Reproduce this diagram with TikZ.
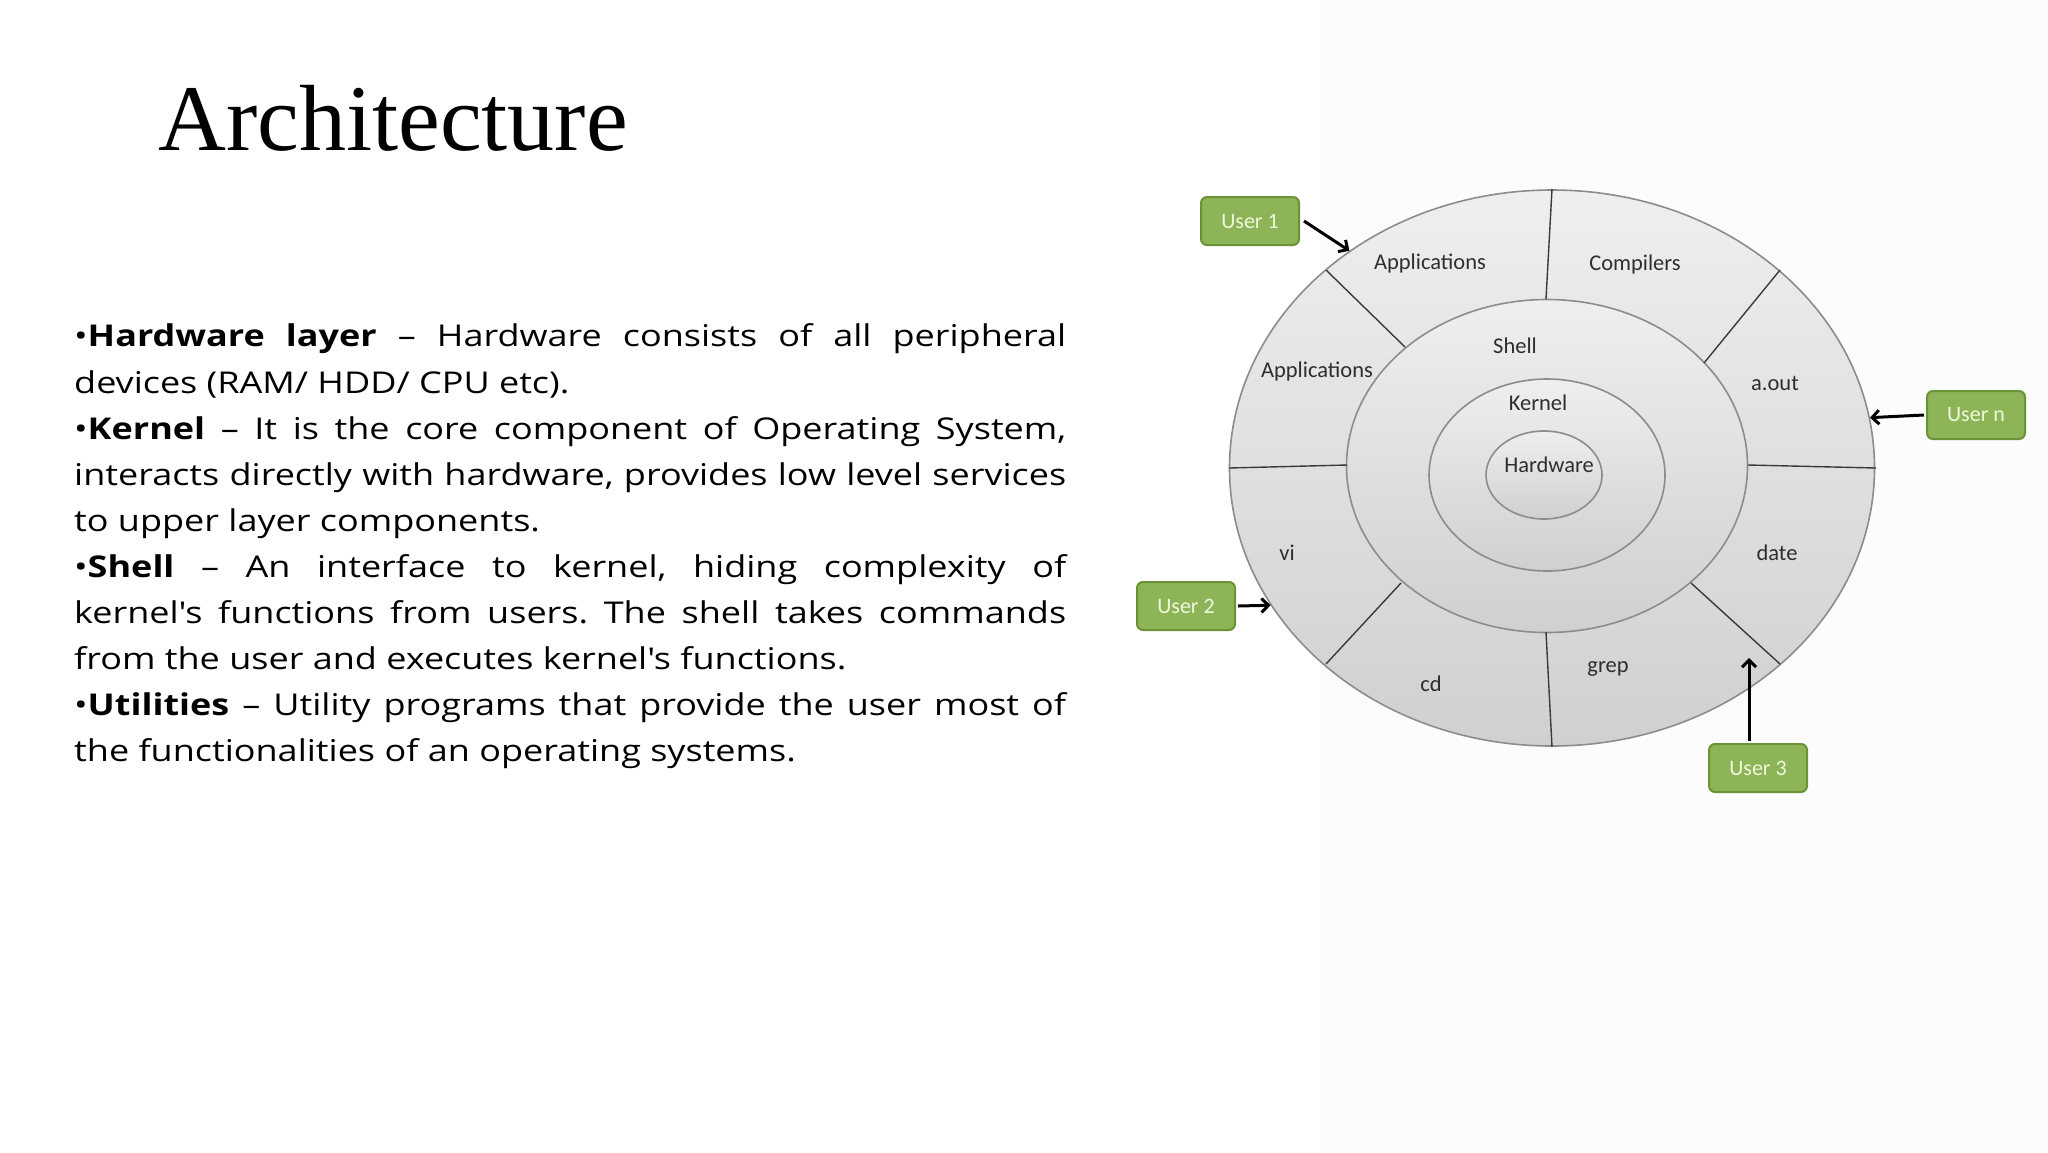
\documentclass[tikz,border=0pt]{standalone}
\usepackage{fontspec}
\setmainfont{Carlito}
\newfontfamily\titlefont{Liberation Serif}
\newfontfamily\bodyfont{Open Sans}[FakeStretch=1.2]
\usetikzlibrary{shapes.geometric,arrows.meta,calc}
\definecolor{ringfill}{HTML}{E4E4E4}
\definecolor{ringdark}{HTML}{D0D0D0}
\definecolor{ringline}{HTML}{8C8C8C}
\definecolor{divline}{HTML}{3A3A3A}
\definecolor{usergreen}{HTML}{8DB457}
\definecolor{userborder}{HTML}{6C9238}
\definecolor{usertext}{HTML}{EEF8DC}
\definecolor{labeltext}{HTML}{2E2E2E}
\newcommand{\bulletitem}[1]{\textbullet\textbf{#1}}
\frenchspacing
\begin{document}
\begin{tikzpicture}[x=1pt,y=-1pt,
  ring/.style={ellipse,draw=ringline,line width=1.6pt,inner sep=0pt,
    top color=ringfill!60!white,bottom color=ringdark},
  divider/.style={draw=divline,line width=1.4pt},
  lbl/.style={font=\fontsize{22.5}{26}\selectfont,text=labeltext,inner sep=0pt},
  userbox/.style={draw=userborder,line width=2pt,fill=usergreen,rounded corners=6pt,
    minimum width=98pt,minimum height=48pt,inner sep=0pt,
    font=\fontsize{22}{24}\selectfont,text=usertext},
  uarrow/.style={line width=3pt,-{Straight Barb[length=7pt,width=14pt,line width=3pt]}}]
\useasboundingbox (0,0) rectangle (2048,1152);
\fill[white] (0,0) rectangle (2048,1152);
\fill[black!1] (1320,0) rectangle (2048,1152);
% title
\node[anchor=base west,inner sep=0pt,font=\titlefont\fontsize{94}{100}\selectfont] (title) at (158,150) {Architecture};
% body text
\node[anchor=north west,inner sep=0pt,text width=992pt,align=justify,
  font=\bodyfont\fontsize{30}{46.1}\selectfont\frenchspacing] (body) at (74,306.7) {%
\rule{0pt}{40pt}\bulletitem{Hardware layer} – Hardware consists of all peripheral\linebreak
devices (RAM/ HDD/ CPU etc).\par
\bulletitem{Kernel} – It is the core component of Operating System,\linebreak
interacts directly with hardware, provides low level services\linebreak
to upper layer components.\par
\bulletitem{Shell} – An interface to kernel, hiding complexity of\linebreak
kernel\textquotesingle s functions from users. The shell takes commands\linebreak
from the user and executes kernel\textquotesingle s functions.\par
\bulletitem{Utilities} – Utility programs that provide the user most of\linebreak
the functionalities of an operating systems.};
% rings
\node[ring,minimum width=645pt,minimum height=556pt] (outer) at (1552,468) {};
\node[ring,minimum width=401pt,minimum height=333pt] (shell) at (1547,466) {};
\node[ring,minimum width=236pt,minimum height=192pt] (kernel) at (1547,475) {};
\node[ring,minimum width=116pt,minimum height=88pt] (hw) at (1544,475) {};
% dividers
\draw[divider] (1552,189) -- (1546,299);
\draw[divider] (1546,632) -- (1552,747);
\draw[divider] (1326,270) -- (1405,347);
\draw[divider] (1780,270) -- (1704,363);
\draw[divider] (1229,468) -- (1347,465);
\draw[divider] (1748,465) -- (1876,468);
\draw[divider] (1326,664) -- (1401,583);
\draw[divider] (1691,583) -- (1780,664);
% labels
\node[lbl] (app1) at (1430,263) {Applications};
\node[lbl] (comp) at (1635,264) {Compilers};
\node[lbl] (app2) at (1317,371) {Applications};
\node[lbl] (aout) at (1775,383) {a.out};
\node[lbl] (shl) at (1515,346) {Shell};
\node[lbl] (krn) at (1538,403) {Kernel};
\node[lbl] (hwl) at (1549,465) {Hardware};
\node[lbl] (vi) at (1287,553) {vi};
\node[lbl] (date) at (1777,553) {date};
\node[lbl] (cd) at (1431,684) {cd};
\node[lbl] (grep) at (1608,669) {grep};
% users
\node[userbox] (u1) at (1250,221) {User 1};
\node[userbox] (u2) at (1186,606) {User 2};
\node[userbox] (un) at (1976,415) {User n};
\node[userbox] (u3) at (1758,768) {User 3};
\draw[uarrow] (u1.east) ++(4,0) -- (outer.133);
\draw[uarrow] (u2.east) ++(2,0) -- (outer.206);
\draw[uarrow] (un.west) ++(-2,0) -- (outer.9.5);
\draw[uarrow] ($(u3.north)+(-9,-2)$) -- ($(u3.north)+(-9,-85)$);
\end{tikzpicture}
\end{document}
